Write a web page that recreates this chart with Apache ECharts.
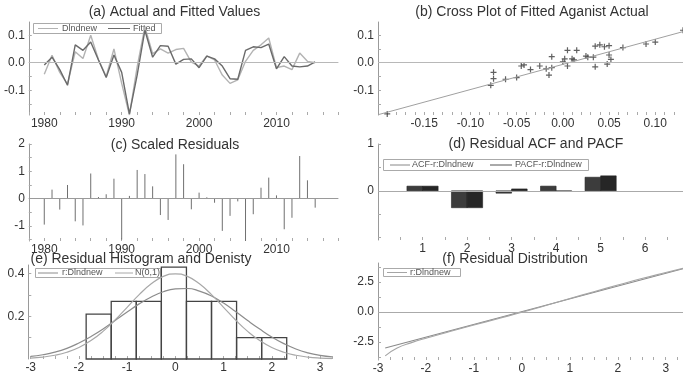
<!DOCTYPE html>
<html>
<head>
<meta charset="utf-8">
<script src="https://cdn.jsdelivr.net/npm/echarts@6/dist/echarts.min.js"></script>
<style>
  html, body { margin: 0; padding: 0; background: #fff; }
  #chart { width: 683px; height: 379px; }
</style>
</head>
<body>
<div id="chart"></div>
<script>
// ---- model output: Dlndnew, annual 1980-2015 ----
const years = [1980, 1981, 1982, 1983, 1984, 1985, 1986, 1987, 1988, 1989,
               1990, 1991, 1992, 1993, 1994, 1995, 1996, 1997, 1998, 1999,
               2000, 2001, 2002, 2003, 2004, 2005, 2006, 2007, 2008, 2009,
               2010, 2011, 2012, 2013, 2014, 2015];
const actual = [-0.042, 0.027, -0.035, -0.078, 0.040, 0.015, 0.100, 0.012, -0.050, 0.050,
                -0.075, -0.190, -0.015, 0.130, 0.033, 0.050, 0.035, 0.048, 0.052, 0.002,
                -0.012, 0.025, 0.010, -0.045, -0.075, -0.062, 0.005, 0.045, 0.065, 0.090,
                -0.018, -0.012, -0.025, 0.035, 0.005, 0.000];
const fitted = [-0.008, 0.020, -0.025, -0.082, 0.065, 0.045, 0.075, 0.010, -0.054, 0.028,
                -0.035, -0.186, -0.045, 0.118, 0.020, 0.062, 0.060, -0.005, 0.012, 0.014,
                -0.018, 0.024, 0.014, -0.012, -0.058, -0.060, 0.045, 0.058, 0.055, 0.068,
                -0.022, 0.022, -0.012, -0.015, -0.012, 0.003];
const scaledResid = [-0.95, 0.33, -0.40, 0.50, -0.83, -0.98, 0.92, 0.06, 0.16, 0.73,
                     -1.50, 0.10, 1.05, 0.90, 0.45, -0.60, -0.78, 1.62, 1.26, -0.39,
                     0.22, 0.05, -0.15, -1.18, -0.63, -0.10, -1.55, -0.57, 0.40, 0.77,
                     0.12, -1.12, -0.70, 1.56, 0.67, -0.33];

// cross plot regression line (actual -> fitted)
const regActual = [-0.20, 0.13];
const regFitted = [-0.189, 0.113];

// residual correlogram
const lags = [1, 2, 3, 4, 5];
const acf = [0.10, -0.36, -0.05, 0.10, 0.29];
const pacf = [0.10, -0.36, 0.04, -0.01, 0.32];

// residual histogram and densities
const binEdges = [-1.85, -1.33, -0.81, -0.29, 0.23, 0.75, 1.27, 1.79, 2.31];
const binDensity = [0.21, 0.27, 0.27, 0.43, 0.27, 0.27, 0.10, 0.10];
const densityX = [-3.00, -2.75, -2.50, -2.25, -2.00, -1.75, -1.50, -1.25, -1.00, -0.75, -0.50, -0.25, 0.00,
                  0.25, 0.50, 0.75, 1.00, 1.25, 1.50, 1.75, 2.00, 2.25, 2.50, 2.75, 3.00, 3.25];
const kernelDensity = [0.012, 0.020, 0.032, 0.050, 0.075, 0.105, 0.140, 0.180, 0.220, 0.258, 0.290, 0.315, 0.328,
                       0.330, 0.318, 0.295, 0.262, 0.222, 0.180, 0.140, 0.103, 0.072, 0.047, 0.029, 0.017, 0.010];
const normalDensity = [0.0044, 0.0091, 0.0175, 0.0317, 0.0540, 0.0863, 0.1295, 0.1826, 0.2420, 0.3011, 0.3521, 0.3867, 0.3989,
                       0.3867, 0.3521, 0.3011, 0.2420, 0.1826, 0.1295, 0.0863, 0.0540, 0.0317, 0.0175, 0.0091, 0.0044, 0.0020];

// residual QQ plot
const qqNormal = [-2.85, -2.60, -2.30, -2.00, -1.50, -1.00, -0.50, 0.00, 0.50, 1.00, 1.50, 2.00, 2.50, 3.00, 3.36];
const qqResid = [-3.65, -3.00, -2.55, -2.18, -1.62, -1.08, -0.55, -0.02, 0.55, 1.13, 1.70, 2.26, 2.80, 3.30, 3.65];
const qqRefX = [-2.85, 3.36];
const qqRefY = [-3.00, 3.62];

// ---- axis ticks and labels ----
const yearTicks = [1978, 1980, 1982, 1984, 1986, 1988, 1990, 1992, 1994, 1996, 1998,
                   2000, 2002, 2004, 2006, 2008, 2010, 2012, 2014, 2016, 2018];
const yearLabels = [1980, 1990, 2000, 2010];
const growthLabels = [-0.1, 0, 0.1];
const growthTicks = [-0.15, -0.1, -0.05, 0, 0.05, 0.1];
const crossLabels = [-0.15, -0.10, -0.05, 0, 0.05, 0.10];
const crossTicks = [-0.19, -0.18, -0.17, -0.16, -0.15, -0.14, -0.13, -0.12, -0.11, -0.10,
                    -0.09, -0.08, -0.07, -0.06, -0.05, -0.04, -0.03, -0.02, -0.01, 0,
                    0.01, 0.02, 0.03, 0.04, 0.05, 0.06, 0.07, 0.08, 0.09, 0.10, 0.11, 0.12];
const residLabels = [-1, 0, 1, 2];
const residTicks = [-1.5, -1, -0.5, 0, 0.5, 1, 1.5, 2];
const lagLabels = [1, 2, 3, 4, 5, 6];
const lagTicks = [0.5, 1, 1.5, 2, 2.5, 3, 3.5, 4, 4.5, 5, 5.5, 6, 6.5];
const corrLabels = [0, 1];
const corrTicks = [-1, -0.5, 0, 0.5, 1];
const stdLabels = [-3, -2, -1, 0, 1, 2, 3];
const stdTicks = [-3, -2.75, -2.5, -2.25, -2, -1.75, -1.5, -1.25, -1, -0.75, -0.5, -0.25, 0,
                  0.25, 0.5, 0.75, 1, 1.25, 1.5, 1.75, 2, 2.25, 2.5, 2.75, 3, 3.25];
const densLabels = [0.2, 0.4];
const densTicks = [0.1, 0.2, 0.3, 0.4];
const qqLabels = [-2.5, 0, 2.5];
const qqTicks = [-3.75, -2.5, -1.25, 0, 1.25, 2.5, 3.75];

// ---- styling ----
const FONT = '"Liberation Sans", Arial, sans-serif';
const TEXT = '#333';
const BAR_HALF = 0.35;

function axis(gridIndex, min, max, tickVals, labelVals, fmt, isY) {
  return {
    type: 'value', gridIndex, min, max,
    axisLine: isY
      ? { show: true, onZero: false, lineStyle: { color: '#9a9a9a', width: 1 } }
      : { show: false, onZero: false },
    axisTick: { show: true, inside: true, length: 3, customValues: tickVals,
                lineStyle: { color: '#aaa', width: 1 } },
    axisLabel: { customValues: labelVals, formatter: fmt, color: TEXT,
                 fontSize: 12, fontFamily: FONT, margin: isY ? 4 : 3 },
    splitLine: { show: false }
  };
}

function zeroLine(color) {
  return { silent: true, symbol: 'none', label: { show: false },
           lineStyle: { color, width: 1, type: 'solid' }, data: [{ yAxis: 0 }] };
}

const fmt1 = v => v.toFixed(1);
const fmt2 = v => v.toFixed(2);
const fmt0 = v => String(Math.round(v));

const grids = [
  { left: 28.8, top: 22, width: 309.6, height: 93 },   // (a)
  { left: 378, top: 22, width: 305, height: 93 },      // (b)
  { left: 28.8, top: 144, width: 309.6, height: 97 },  // (c)
  { left: 378, top: 144, width: 305, height: 96 },     // (d)
  { left: 28.3, top: 265, width: 310, height: 94 },    // (e)
  { left: 378, top: 263, width: 305, height: 97 }      // (f)
];

const xAxes = [
  axis(0, 1978, 2018, yearTicks, yearLabels, fmt0, false),
  axis(1, -0.20, 0.13, crossTicks, crossLabels, fmt2, false),
  axis(2, 1978, 2018, yearTicks, yearLabels, fmt0, false),
  axis(3, 0, 6.85, lagTicks, lagLabels, fmt0, false),
  axis(4, -3.05, 3.38, stdTicks, stdLabels, fmt0, false),
  axis(5, -3.0, 3.36, stdTicks, stdLabels, fmt0, false)
];
const yAxes = [
  axis(0, -0.19, 0.148, growthTicks, growthLabels, fmt1, true),
  axis(1, -0.19, 0.148, growthTicks, growthLabels, fmt1, true),
  axis(2, -1.55, 2, residTicks, residLabels, fmt0, true),
  axis(3, -1.05, 1, corrTicks, corrLabels, fmt0, true),
  axis(4, 0, 0.44, densTicks, densLabels, fmt1, true),
  axis(5, -4.0, 4.1, qqTicks, qqLabels, fmt1, true)
];

const pairs = (xs, ys) => xs.map((x, i) => [x, ys[i]]);

function corrBar(offsetLeft, fill) {
  return function (params, api) {
    const lag = api.value(0), v = api.value(1);
    const x0 = offsetLeft ? lag - BAR_HALF : lag;
    const a = api.coord([x0, v]);
    const b = api.coord([x0 + BAR_HALF, 0]);
    return { type: 'rect',
             shape: { x: a[0], y: Math.min(a[1], b[1]), width: b[0] - a[0], height: Math.abs(b[1] - a[1]) },
             style: { fill, stroke: '#222', lineWidth: 0.6 } };
  };
}

const plusSymbol = 'path://M4,0H6V4H10V6H6V10H4V6H0V4H4Z';

const series = [
  // (a) actual and fitted
  { name: 'Dlndnew', type: 'line', xAxisIndex: 0, yAxisIndex: 0, data: pairs(years, actual),
    symbol: 'none', lineStyle: { color: '#b3b3b3', width: 1.4 }, itemStyle: { color: '#b3b3b3' },
    markLine: zeroLine('#b8b8b8'), z: 2 },
  { name: 'Fitted', type: 'line', xAxisIndex: 0, yAxisIndex: 0, data: pairs(years, fitted),
    symbol: 'none', lineStyle: { color: '#6a6a6a', width: 1.4 }, itemStyle: { color: '#6a6a6a' }, z: 3 },

  // (b) cross plot
  { name: 'regression', type: 'line', xAxisIndex: 1, yAxisIndex: 1, data: pairs(regActual, regFitted),
    symbol: 'none', lineStyle: { color: '#a0a0a0', width: 1 },
    markLine: zeroLine('#b8b8b8') },
  { name: 'cross', type: 'scatter', xAxisIndex: 1, yAxisIndex: 1, data: pairs(actual, fitted),
    symbol: plusSymbol, symbolSize: 6, itemStyle: { color: '#3a3a3a' } },

  // (c) scaled residuals
  { name: 'scaled', type: 'custom', xAxisIndex: 2, yAxisIndex: 2, data: pairs(years, scaledResid),
    renderItem: (params, api) => {
      const p0 = api.coord([api.value(0), 0]);
      const p1 = api.coord([api.value(0), api.value(1)]);
      return { type: 'line', shape: { x1: p0[0], y1: p0[1], x2: p1[0], y2: p1[1] },
               style: { stroke: '#707070', lineWidth: 1 } };
    },
    markLine: zeroLine('#9a9a9a') },

  // (d) ACF / PACF
  { name: 'ACF-r:Dlndnew', type: 'custom', xAxisIndex: 3, yAxisIndex: 3, data: pairs(lags, acf),
    renderItem: corrBar(true, '#3c3c3c'), markLine: zeroLine('#aaa') },
  { name: 'PACF-r:Dlndnew', type: 'custom', xAxisIndex: 3, yAxisIndex: 3, data: pairs(lags, pacf),
    renderItem: corrBar(false, '#262626') },

  // (e) histogram and densities
  { name: 'histogram', type: 'custom', xAxisIndex: 4, yAxisIndex: 4,
    data: binDensity.map((h, i) => [binEdges[i], binEdges[i + 1], h]),
    encode: { x: [0, 1], y: 2 },
    renderItem: (params, api) => {
      const a = api.coord([api.value(0), api.value(2)]);
      const b = api.coord([api.value(1), 0]);
      return { type: 'rect', shape: { x: a[0], y: a[1], width: b[0] - a[0], height: b[1] - a[1] },
               style: { fill: 'none', stroke: '#444', lineWidth: 1.3 } };
    } },
  { name: 'r:Dlndnew', type: 'line', xAxisIndex: 4, yAxisIndex: 4, data: pairs(densityX, kernelDensity),
    smooth: true, symbol: 'none', lineStyle: { color: '#8c8c8c', width: 1.2 } },
  { name: 'N(0,1)', type: 'line', xAxisIndex: 4, yAxisIndex: 4, data: pairs(densityX, normalDensity),
    smooth: true, symbol: 'none', lineStyle: { color: '#a8a8a8', width: 1.2 } },

  // (f) residual distribution
  { name: 'normal line', type: 'line', xAxisIndex: 5, yAxisIndex: 5, data: pairs(qqRefX, qqRefY),
    symbol: 'none', lineStyle: { color: '#8a8a8a', width: 1.1 }, markLine: zeroLine('#aaa') },
  { name: 'r:Dlndnew QQ', type: 'line', xAxisIndex: 5, yAxisIndex: 5, data: pairs(qqNormal, qqResid),
    smooth: true, symbol: 'none', lineStyle: { color: '#a5a5a5', width: 1.1 } }
];

// titles and legend boxes
function title(text, x, y) {
  return { type: 'text', x, y, style: { text, textAlign: 'center', textVerticalAlign: 'middle',
           fill: TEXT, font: '14px ' + FONT } };
}
function legendBox(x, y, w, h) {
  return { type: 'rect', shape: { x, y, width: w, height: h },
           style: { fill: 'none', stroke: '#aaa', lineWidth: 1 } };
}
function legendLine(x1, x2, y, color) {
  return { type: 'line', shape: { x1, y1: y, x2, y2: y }, style: { stroke: color, lineWidth: 1 } };
}
function legendText(text, x, y) {
  return { type: 'text', x, y, style: { text, textAlign: 'left', textVerticalAlign: 'middle',
           fill: '#555', font: '9px ' + FONT } };
}

const graphic = [
  title('(a) Actual and Fitted Values', 174.5, 12),
  title('(b) Cross Plot of Fitted Aganist Actual', 532, 12),
  title('(c) Scaled Residuals', 175, 145),
  title('(d) Residual ACF and PACF', 536, 144),
  title('(e) Residual Histogram and Denisty', 141, 259.5),
  title('(f) Residual Distribution', 515, 259),

  legendBox(33.5, 23.5, 128, 10),
  legendLine(38, 58, 28.5, '#b3b3b3'), legendText('Dlndnew', 62, 28.5),
  legendLine(108, 130, 28.5, '#6a6a6a'), legendText('Fitted', 133, 28.5),

  legendBox(383.5, 159.5, 205, 11),
  legendLine(390, 410, 165, '#888'), legendText('ACF-r:Dlndnew', 412, 165),
  legendLine(490, 512, 165, '#555'), legendText('PACF-r:Dlndnew', 515, 165),

  legendBox(35.5, 268.5, 125, 9),
  legendLine(38, 58, 273, '#8c8c8c'), legendText('r:Dlndnew', 62, 273),
  legendLine(115, 133, 273, '#a8a8a8'), legendText('N(0,1)', 135, 273),

  legendBox(383.5, 268.5, 77, 8),
  legendLine(387, 407, 272.5, '#a5a5a5'), legendText('r:Dlndnew', 410, 272.5)
];

const chart = echarts.init(document.getElementById('chart'), null, { renderer: 'canvas' });
chart.setOption({
  backgroundColor: '#fff',
  animation: false,
  textStyle: { fontFamily: FONT },
  grid: grids,
  xAxis: xAxes,
  yAxis: yAxes,
  series,
  graphic
});
</script>
</body>
</html>
